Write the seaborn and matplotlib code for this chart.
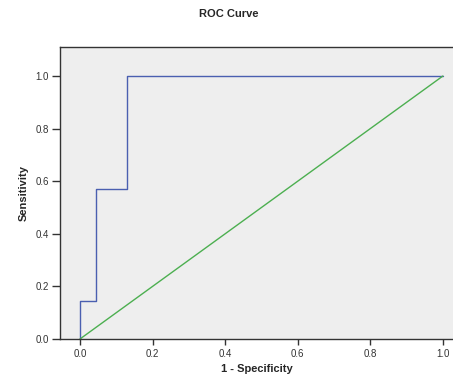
import pandas as pd
import matplotlib
matplotlib.use("Agg")
import matplotlib.pyplot as plt
import seaborn as sns

# ROC coordinates
fpr = [0.0, 0.0, 0.043, 0.043, 0.130, 0.130, 1.0]
tpr = [0.0, 0.143, 0.143, 0.571, 0.571, 1.0, 1.0]
ref_x = [0.0, 1.0]
ref_y = [0.0, 1.0]
ticks = [0.0, 0.2, 0.4, 0.6, 0.8, 1.0]

roc = pd.DataFrame({"fpr": fpr, "tpr": tpr})
diag = pd.DataFrame({"x": ref_x, "y": ref_y})

sns.set_theme(style="ticks")
plt.rcParams["font.family"] = ["Liberation Sans", "DejaVu Sans"]

fig = plt.figure(figsize=(4.53, 3.74), dpi=100)
ax = fig.add_axes([0.1325, 0.0936, 0.8675, 0.7804])
ax.set_facecolor("#eeeeee")

sns.lineplot(data=roc, x="fpr", y="tpr", sort=False, color="#4a5fb0",
             linewidth=1.0, estimator=None, ax=ax)
sns.lineplot(data=diag, x="x", y="y", sort=False, color="#4caf50",
             linewidth=1.0, estimator=None, ax=ax)

ax.set_xlim(-0.055, 1.028)
ax.set_ylim(0.0, 1.11)
ax.set_xticks(ticks)
ax.set_yticks(ticks)
ax.set_xticklabels([f"{t:.1f}" for t in ticks], fontsize=7, color="#333333")
ax.set_yticklabels([f"{t:.1f}" for t in ticks], fontsize=7, color="#333333")
ax.tick_params(axis="y", direction="out", length=6, width=1, color="#333333", pad=2)
ax.tick_params(axis="x", direction="out", length=4, width=1, color="#333333", pad=3)
for side in ax.spines.values():
    side.set_color("#333333")
    side.set_linewidth(1.0)
ax.spines["right"].set_visible(False)

ax.set_xlabel("1 - Specificity", fontsize=8, fontweight="bold", labelpad=4)
ax.set_ylabel("Sensitivity", fontsize=8, fontweight="bold", labelpad=5)
fig.text(0.505, 0.962, "ROC Curve", ha="center", va="center",
         fontsize=8, fontweight="bold")

fig.savefig("out.png", dpi=100)
